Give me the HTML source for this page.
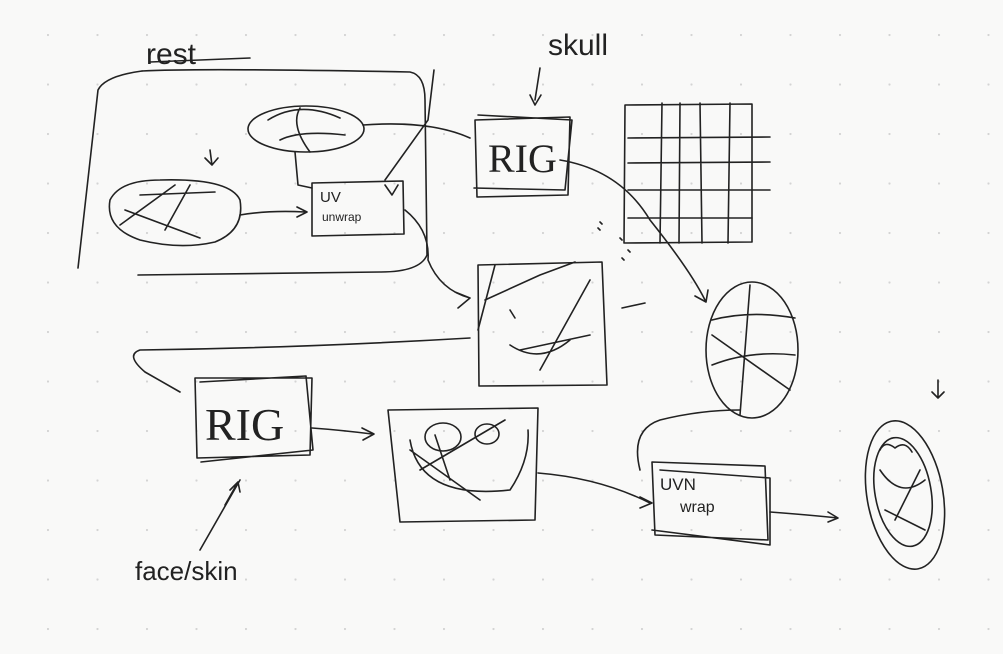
<!DOCTYPE html>
<html><head><style>html,body{margin:0;padding:0;background:#f9f9f8;width:1003px;height:654px;overflow:hidden}</style></head>
<body>
<svg width="1003" height="654" xmlns="http://www.w3.org/2000/svg">
<defs><pattern id="d" x="47" y="34" width="49.5" height="49.5" patternUnits="userSpaceOnUse"><circle cx="1" cy="1" r="1.1" fill="#d4d4d4"/></pattern></defs>
<rect width="1003" height="654" fill="#f9f9f8"/>
<rect width="1003" height="654" fill="url(#d)"/>
<g fill="none" stroke="#222" stroke-width="1.6" stroke-linecap="round" stroke-linejoin="round">
<!-- rest container -->
<path d="M142 71 Q200 68 410 72 Q425 75 425 100 L427 255 Q420 272 380 272 L138 275"/>
<path d="M142 71 Q105 76 98 90 L78 268"/>
<path d="M150 62 L250 58"/>
<!-- top ellipse -->
<ellipse cx="306" cy="129" rx="58" ry="23"/>
<path d="M268 120 Q300 100 340 118 M280 140 Q300 130 345 135 M300 108 Q290 125 310 152"/>
<path d="M363 125 Q430 120 470 138"/>
<path d="M295 152 L298 185 L312 188"/>
<!-- left blob -->
<path d="M110 200 Q120 180 160 180 Q230 178 240 200 Q245 230 215 242 Q180 250 140 240 Q105 228 110 200Z"/>
<path d="M125 210 L200 238 M140 195 L215 192 M165 230 L190 185 M120 225 L175 185"/>
<path d="M210 150 L212 165 M205 158 L212 165 L218 158"/>
<path d="M240 215 Q270 210 305 212 M297 207 L307 212 L297 217"/>
<!-- UV unwrap box -->
<path d="M312 183 L403 181 L404 234 L312 236Z"/>
<path d="M434 70 L428 120 L385 180 M385 185 L392 195 L398 185"/>
<!-- RIG skull -->
<path d="M475 120 L570 117 L568 195 L477 197Z M478 115 L572 120 L565 190 L474 188"/>
<path d="M540 68 L535 100 M530 95 L535 105 L541 95"/>
<!-- grid -->
<path d="M625 105 L752 104 L752 242 L624 243Z"/>
<path d="M628 138 L770 137 M628 163 L770 162 M628 190 L770 190 M628 218 L752 218 M662 103 L660 243 M680 103 L679 243 M700 103 L702 243 M730 103 L728 243"/>
<path d="M560 160 Q620 170 650 220 Q690 270 705 300 M695 296 L706 302 L708 290"/>
<!-- middle box -->
<path d="M478 265 L602 262 L607 385 L479 386Z"/>
<path d="M495 265 L478 330 M485 300 L540 275 L575 262 M590 280 L540 370 M510 310 L515 318 M510 345 Q540 365 570 340 M520 350 L590 335"/>
<path d="M405 210 Q430 230 428 260 Q440 290 470 298 M455 292 L470 298 L458 308"/>
<path d="M622 308 L645 303"/>
<!-- oval right -->
<ellipse cx="752" cy="350" rx="46" ry="68"/>
<path d="M712 320 Q750 310 795 318 M712 365 Q750 350 795 355 M750 285 Q745 350 740 415 M712 335 L790 390"/>
<path d="M740 410 Q700 410 660 420 Q630 430 640 470"/>
<!-- left connector to RIG -->
<path d="M470 338 Q300 348 140 350 Q125 355 145 372 L180 392"/>
<!-- RIG face -->
<path d="M195 378 L312 378 L310 455 L197 458Z M200 382 L306 376 L313 450 L201 462"/>
<path d="M312 428 Q340 430 372 434 M362 428 L374 434 L363 440"/>
<path d="M238 482 L225 505 M230 490 L238 482 L240 492 M240 480 L200 550"/>
<!-- face box -->
<path d="M388 410 L538 408 L535 520 L400 522Z"/>
<path d="M410 440 Q420 500 510 490 Q530 460 528 430 M420 470 L505 420 M410 450 L480 500 M435 435 L450 480"/>
<ellipse cx="443" cy="437" rx="18" ry="14"/><ellipse cx="487" cy="434" rx="12" ry="10"/>
<path d="M538 473 Q600 478 650 503 M640 497 L652 503 L640 508"/>
<!-- UVN wrap -->
<path d="M652 462 L765 466 L768 540 L655 535Z M660 470 L770 478 L770 545 L652 530"/>
<path d="M770 512 Q810 515 838 518 M828 512 L838 518 L828 522"/>
<!-- final face -->
<ellipse cx="905" cy="495" rx="38" ry="75" transform="rotate(-10 905 495)"/>
<ellipse cx="903" cy="492" rx="28" ry="55" transform="rotate(-10 903 492)"/>
<path d="M880 450 Q885 440 895 448 M895 448 Q905 440 912 452 M880 470 Q900 500 925 480 M885 510 L925 530 M920 470 L895 520"/>
<path d="M938 380 L938 398 M932 392 L938 398 L944 392"/>
<path d="M600 222 L602 224 M598 228 L600 230 M620 238 L622 240 M628 250 L630 252 M622 258 L624 260"/>
</g>
<g font-family="Liberation Sans, sans-serif" fill="#222">
<text x="146" y="64" font-size="30">rest</text>
<text x="548" y="55" font-size="30">skull</text>
<text x="488" y="172" font-size="40" font-family="Liberation Serif, serif">RIG</text>
<text x="320" y="202" font-size="15">UV</text>
<text x="322" y="221" font-size="12">unwrap</text>
<text x="205" y="440" font-size="46" font-family="Liberation Serif, serif">RIG</text>
<text x="135" y="580" font-size="26">face/skin</text>
<text x="660" y="490" font-size="17">UVN</text>
<text x="680" y="512" font-size="16">wrap</text>
</g>
</svg>
</body></html>
